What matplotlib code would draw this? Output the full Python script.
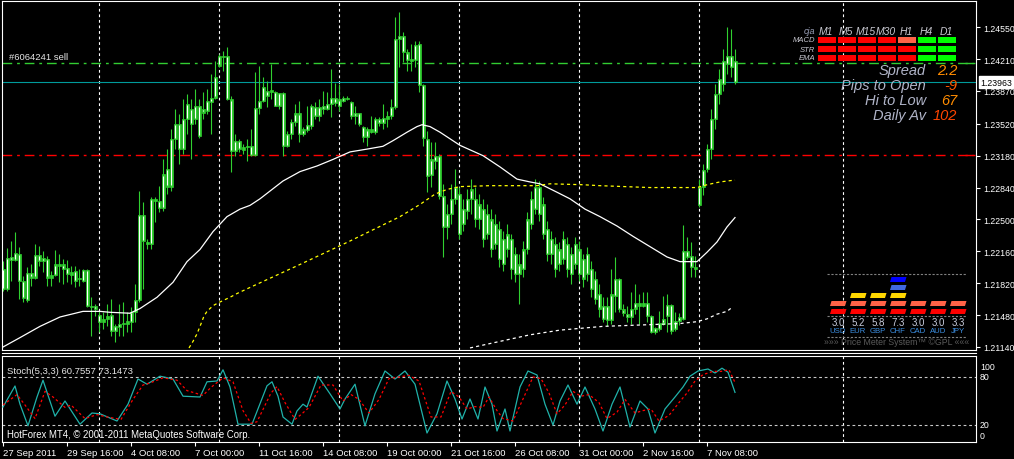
import numpy as np
import matplotlib
matplotlib.use("Agg")
import matplotlib.pyplot as plt
from matplotlib import font_manager
from matplotlib.patches import Rectangle, Polygon

plt.rcParams['font.family'] = ['Liberation Sans', 'DejaVu Sans']

# price scale font: narrow face if available, like the terminal's Tahoma
_names = {f.name for f in font_manager.fontManager.ttflist}
if 'Liberation Sans Narrow' in _names:
    SCALE_FONT, SCALE_SIZE = 'Liberation Sans Narrow', 7.2
else:
    SCALE_FONT, SCALE_SIZE = 'Liberation Sans', 6.3

# H4 candles, 27 Sep - 7 Nov 2011
c_open = [1.2176, 1.2176, 1.2207, 1.2207, 1.2213, 1.2184, 1.2164, 1.2193, 1.2188, 1.2212,
          1.2206, 1.2208, 1.2188, 1.2191, 1.2202, 1.2202, 1.2198, 1.2194, 1.2195, 1.2186,
          1.2184, 1.2196, 1.2158, 1.2158, 1.2148, 1.2141, 1.2144, 1.2148, 1.2131, 1.2135,
          1.2139, 1.2139, 1.2141, 1.2151, 1.2164, 1.2255, 1.2226, 1.2224, 1.2272, 1.2262,
          1.2262, 1.2304, 1.2285, 1.2336, 1.2352, 1.2325, 1.2357, 1.2368, 1.2357, 1.2339,
          1.2368, 1.2366, 1.2375, 1.2380, 1.2414, 1.2424, 1.2424, 1.2378, 1.2323, 1.2334,
          1.2324, 1.2327, 1.2328, 1.2319, 1.2369, 1.2376, 1.2387, 1.2386, 1.2386, 1.2371,
          1.2385, 1.2328, 1.2341, 1.2354, 1.2363, 1.2341, 1.2345, 1.2350, 1.2370, 1.2360,
          1.2371, 1.2368, 1.2373, 1.2380, 1.2371, 1.2376, 1.2380, 1.2375, 1.2360, 1.2364,
          1.2349, 1.2338, 1.2343, 1.2343, 1.2357, 1.2353, 1.2357, 1.2360, 1.2370, 1.2442,
          1.2446, 1.2428, 1.2419, 1.2420, 1.2437, 1.2393, 1.2336, 1.2297, 1.2312, 1.2318,
          1.2275, 1.2242, 1.2256, 1.2272, 1.2277, 1.2245, 1.2259, 1.2272, 1.2272, 1.2250,
          1.2261, 1.2234, 1.2250, 1.2224, 1.2240, 1.2202, 1.2234, 1.2229, 1.2213, 1.2192,
          1.2197, 1.2218, 1.2245, 1.2261, 1.2285, 1.2266, 1.2240, 1.2213, 1.2224, 1.2202,
          1.2208, 1.2224, 1.2213, 1.2202, 1.2218, 1.2208, 1.2192, 1.2197, 1.2187, 1.2171,
          1.2158, 1.2143, 1.2143, 1.2168, 1.2187, 1.2154, 1.2149, 1.2146, 1.2155, 1.2158,
          1.2161, 1.2161, 1.2147, 1.2130, 1.2133, 1.2139, 1.2147, 1.2159, 1.2133, 1.2142,
          1.2144, 1.2216, 1.2211, 1.2199, 1.2265, 1.2285, 1.2304, 1.2325, 1.2357, 1.2384,
          1.2394, 1.2416, 1.2424, 1.2419]
c_high = [1.2206, 1.2220, 1.2227, 1.2237, 1.2221, 1.2190, 1.2199, 1.2202, 1.2224, 1.2222,
          1.2216, 1.2211, 1.2195, 1.2217, 1.2213, 1.2208, 1.2207, 1.2200, 1.2200, 1.2197,
          1.2197, 1.2197, 1.2167, 1.2160, 1.2152, 1.2151, 1.2160, 1.2165, 1.2139, 1.2160,
          1.2162, 1.2151, 1.2157, 1.2181, 1.2280, 1.2269, 1.2229, 1.2274, 1.2274, 1.2286,
          1.2314, 1.2325, 1.2346, 1.2368, 1.2362, 1.2378, 1.2384, 1.2378, 1.2389, 1.2378,
          1.2386, 1.2389, 1.2405, 1.2419, 1.2426, 1.2430, 1.2434, 1.2382, 1.2341, 1.2336,
          1.2330, 1.2336, 1.2346, 1.2407, 1.2414, 1.2402, 1.2398, 1.2416, 1.2387, 1.2385,
          1.2386, 1.2344, 1.2357, 1.2373, 1.2376, 1.2349, 1.2371, 1.2373, 1.2375, 1.2378,
          1.2387, 1.2386, 1.2410, 1.2396, 1.2394, 1.2382, 1.2382, 1.2376, 1.2371, 1.2364,
          1.2350, 1.2349, 1.2360, 1.2359, 1.2359, 1.2373, 1.2366, 1.2378, 1.2466, 1.2471,
          1.2450, 1.2432, 1.2437, 1.2440, 1.2440, 1.2394, 1.2344, 1.2333, 1.2333, 1.2320,
          1.2288, 1.2266, 1.2288, 1.2304, 1.2285, 1.2272, 1.2282, 1.2293, 1.2285, 1.2277,
          1.2272, 1.2266, 1.2261, 1.2256, 1.2248, 1.2238, 1.2245, 1.2234, 1.2221, 1.2213,
          1.2227, 1.2258, 1.2280, 1.2293, 1.2291, 1.2274, 1.2248, 1.2238, 1.2231, 1.2226,
          1.2238, 1.2231, 1.2221, 1.2231, 1.2227, 1.2213, 1.2221, 1.2206, 1.2195, 1.2181,
          1.2167, 1.2167, 1.2197, 1.2210, 1.2188, 1.2160, 1.2158, 1.2173, 1.2181, 1.2171,
          1.2173, 1.2173, 1.2148, 1.2135, 1.2152, 1.2168, 1.2170, 1.2160, 1.2151, 1.2150,
          1.2244, 1.2231, 1.2226, 1.2211, 1.2293, 1.2309, 1.2330, 1.2368, 1.2394, 1.2410,
          1.2432, 1.2455, 1.2453, 1.2432]
c_low = [1.2174, 1.2174, 1.2184, 1.2206, 1.2165, 1.2162, 1.2162, 1.2179, 1.2187, 1.2200,
         1.2194, 1.2179, 1.2179, 1.2190, 1.2183, 1.2181, 1.2183, 1.2181, 1.2178, 1.2179,
         1.2183, 1.2157, 1.2126, 1.2147, 1.2130, 1.2133, 1.2136, 1.2126, 1.2119, 1.2126,
         1.2126, 1.2130, 1.2130, 1.2141, 1.2162, 1.2176, 1.2218, 1.2218, 1.2247, 1.2258,
         1.2259, 1.2277, 1.2280, 1.2325, 1.2309, 1.2320, 1.2341, 1.2314, 1.2352, 1.2337,
         1.2357, 1.2362, 1.2341, 1.2378, 1.2412, 1.2408, 1.2377, 1.2301, 1.2318, 1.2322,
         1.2320, 1.2312, 1.2318, 1.2318, 1.2362, 1.2375, 1.2370, 1.2378, 1.2371, 1.2368,
         1.2318, 1.2327, 1.2336, 1.2350, 1.2333, 1.2339, 1.2343, 1.2346, 1.2357, 1.2355,
         1.2362, 1.2367, 1.2359, 1.2371, 1.2366, 1.2375, 1.2377, 1.2357, 1.2352, 1.2350,
         1.2333, 1.2328, 1.2342, 1.2341, 1.2350, 1.2346, 1.2349, 1.2357, 1.2368, 1.2412,
         1.2418, 1.2408, 1.2408, 1.2412, 1.2386, 1.2328, 1.2279, 1.2285, 1.2304, 1.2272,
         1.2210, 1.2229, 1.2245, 1.2266, 1.2229, 1.2238, 1.2250, 1.2256, 1.2242, 1.2240,
         1.2221, 1.2229, 1.2210, 1.2218, 1.2199, 1.2195, 1.2210, 1.2187, 1.2183, 1.2160,
         1.2189, 1.2213, 1.2240, 1.2256, 1.2248, 1.2229, 1.2206, 1.2202, 1.2189, 1.2195,
         1.2202, 1.2189, 1.2181, 1.2197, 1.2184, 1.2178, 1.2184, 1.2167, 1.2160, 1.2146,
         1.2141, 1.2136, 1.2139, 1.2151, 1.2151, 1.2147, 1.2141, 1.2139, 1.2149, 1.2139,
         1.2157, 1.2141, 1.2129, 1.2128, 1.2131, 1.2137, 1.2130, 1.2128, 1.2131, 1.2137,
         1.2143, 1.2208, 1.2189, 1.2189, 1.2263, 1.2276, 1.2301, 1.2314, 1.2346, 1.2373,
         1.2387, 1.2405, 1.2402, 1.2394]
c_close = [1.2197, 1.2209, 1.2210, 1.2214, 1.2184, 1.2166, 1.2193, 1.2188, 1.2212, 1.2206,
           1.2209, 1.2188, 1.2191, 1.2202, 1.2200, 1.2197, 1.2192, 1.2191, 1.2184, 1.2188,
           1.2196, 1.2158, 1.2157, 1.2154, 1.2141, 1.2144, 1.2147, 1.2131, 1.2136, 1.2139,
           1.2140, 1.2142, 1.2151, 1.2164, 1.2255, 1.2227, 1.2224, 1.2272, 1.2270, 1.2270,
           1.2298, 1.2285, 1.2336, 1.2352, 1.2325, 1.2357, 1.2373, 1.2352, 1.2371, 1.2371,
           1.2364, 1.2376, 1.2380, 1.2402, 1.2424, 1.2423, 1.2378, 1.2323, 1.2334, 1.2325,
           1.2327, 1.2328, 1.2319, 1.2369, 1.2376, 1.2391, 1.2382, 1.2388, 1.2371, 1.2385,
           1.2328, 1.2341, 1.2354, 1.2363, 1.2341, 1.2346, 1.2351, 1.2371, 1.2360, 1.2370,
           1.2368, 1.2373, 1.2380, 1.2374, 1.2378, 1.2380, 1.2378, 1.2360, 1.2364, 1.2352,
           1.2338, 1.2346, 1.2346, 1.2357, 1.2353, 1.2358, 1.2360, 1.2370, 1.2442, 1.2446,
           1.2428, 1.2420, 1.2421, 1.2436, 1.2393, 1.2337, 1.2296, 1.2314, 1.2318, 1.2275,
           1.2242, 1.2256, 1.2272, 1.2285, 1.2234, 1.2261, 1.2272, 1.2282, 1.2250, 1.2266,
           1.2229, 1.2256, 1.2218, 1.2245, 1.2208, 1.2229, 1.2218, 1.2197, 1.2192, 1.2202,
           1.2218, 1.2250, 1.2272, 1.2285, 1.2256, 1.2234, 1.2213, 1.2229, 1.2197, 1.2218,
           1.2229, 1.2197, 1.2192, 1.2224, 1.2192, 1.2187, 1.2213, 1.2176, 1.2165, 1.2155,
           1.2144, 1.2158, 1.2170, 1.2187, 1.2154, 1.2150, 1.2146, 1.2155, 1.2161, 1.2161,
           1.2158, 1.2147, 1.2130, 1.2134, 1.2140, 1.2144, 1.2159, 1.2131, 1.2142, 1.2146,
           1.2216, 1.2210, 1.2199, 1.2197, 1.2285, 1.2303, 1.2325, 1.2357, 1.2384, 1.2400,
           1.2419, 1.2424, 1.2412, 1.23963]

# moving averages (bar index, price)
ma_white_x = [0, 4.25, 9.25, 14.25, 20, 24.25, 26.75, 31.75, 34.25, 38.5, 42.5, 46, 49.25, 52.5, 56,
              59.25, 61.75, 64.25, 70, 74.25, 78.5, 82.5, 86.75, 91, 95, 97.5, 101, 103.5, 104.75,
              106.75, 109.25, 111.75, 114.25, 120, 124.25, 128.5, 131.75, 134.25, 138.5, 141.75,
              145.5, 149.25, 153.5, 157.5, 161.75, 166, 169.25, 173.5, 176, 178.5, 181, 183]
ma_white = [1.2114, 1.2124, 1.2136, 1.2146, 1.2152, 1.2152, 1.2151, 1.2150, 1.2155, 1.2167,
            1.2183, 1.2205, 1.2218, 1.2237, 1.2253, 1.2261, 1.2265, 1.2272, 1.2291, 1.2301,
            1.2307, 1.2314, 1.2322, 1.2325, 1.2328, 1.2334, 1.2343, 1.2349, 1.2351, 1.2349,
            1.2343, 1.2336, 1.2329, 1.2318, 1.2306, 1.2293, 1.2290, 1.2288, 1.2279, 1.2272,
            1.2261, 1.2253, 1.2243, 1.2232, 1.2221, 1.2210, 1.2205, 1.2205, 1.2215, 1.2226,
            1.2242, 1.2252]
ma_yellow_x = [46.5, 47.5, 48.5, 49.25, 50.25, 51, 52.5, 53.75, 55.25, 56.75, 58.5, 60, 61.5, 74.25,
               86.75, 99.25, 104.25, 108, 111, 114.25, 121.75, 133.5, 136.75, 145, 149.25, 161.75,
               173.5, 176, 179.25, 183]
ma_yellow = [1.2113, 1.2120, 1.2128, 1.2136, 1.2147, 1.2152, 1.2158, 1.2161, 1.2164, 1.2167,
             1.2171, 1.2174, 1.2177, 1.2202, 1.2227, 1.2253, 1.2266, 1.2277, 1.2282, 1.2285,
             1.2286, 1.2286, 1.2288, 1.2287, 1.2286, 1.2284, 1.2284, 1.2287, 1.2290, 1.2292]
ma_dash_x = [116.75, 124.25, 131.75, 139.25, 150, 169.25, 173.5, 176, 178.5, 181, 182.5]
ma_dash = [1.2113, 1.2120, 1.2127, 1.2132, 1.2136, 1.2139, 1.2141, 1.2144, 1.2149, 1.2152, 1.2157]

# stochastic (5,3,3)
stoch_x = [0, 3, 4.25, 6.25, 8.5, 10, 13, 15.5, 19.25, 22.25, 24.25, 28.5, 31.25, 33.75, 36, 39.25,
           42.5, 45, 49.25, 51, 53.5, 55, 56.75, 58.75, 62.25, 66, 67.25, 68.75, 70, 72.25, 73.5,
           75, 76, 78.75, 81.75, 84.25, 85.5, 88, 90.5, 93, 95.5, 98, 100.5, 103, 106, 108.5, 111,
           113, 114.75, 116.75, 118.75, 120.5, 122.25, 123.5, 125.5, 126.75, 129.25, 131.25,
           133.5, 135.5, 137.5, 139.25, 141.25, 143.5, 145.5, 148, 150, 152.25, 154.25, 156.75,
           159.25, 161.25, 163, 165.5, 168, 170, 171.75, 173.75, 176.25, 178, 179.75, 181.25, 183]
stoch_main = [42.5, 68.75, 46, 19, 55, 76, 31, 50, 21, 35, 34, 25, 46, 77.5, 71, 81, 77.5, 56, 55,
              74, 75, 89, 67.5, 21, 21, 69, 74, 56, 30, 21, 37.5, 46, 42.5, 81, 59, 40, 52.5, 71,
              19, 59, 87.5, 77.5, 87.5, 71, 10, 34, 75, 52.5, 27.5, 52.5, 27.5, 67.5, 46, 12.5, 40,
              12.5, 67.5, 87.5, 82.5, 46, 20, 50, 70, 46, 67.5, 40, 12.5, 46, 67.5, 17.5, 50, 40,
              10, 40, 55, 67.5, 81, 87.5, 90, 85, 91, 86, 60.76]
sig_x = [0, 3.5, 5.5, 8, 10.5, 12.5, 15.5, 17, 20.5, 23.5, 26, 29.5, 32.5, 35, 37, 40, 43.5, 46, 50,
         52, 55, 57.5, 60, 62, 63.5, 67, 68.5, 70.5, 73, 74.5, 76.5, 79.5, 82.5, 85, 87, 89, 91.5,
         94, 96.5, 99, 101.5, 104, 107, 109.5, 112, 114, 116, 118, 120, 121.5, 123.5, 125, 127.5,
         130.5, 132.5, 134.5, 136.5, 138.5, 140.5, 142.5, 144.5, 146.5, 149, 151, 153.5, 155.5,
         158, 160, 162, 164, 166.5, 169, 171, 173, 175, 177.5, 179.5, 181.5, 183]
sig_vals = [45, 58, 45, 28, 62, 55, 42, 45, 28, 33, 30, 27, 52, 70, 73, 79, 76, 63, 57, 67, 79, 74,
            38, 22, 24, 60, 68, 48, 27, 33, 42, 70, 70, 50, 58, 52, 35, 52, 78, 80, 82, 75, 30, 30,
            62, 55, 40, 43, 42, 55, 38, 28, 25, 58, 80, 78, 60, 34, 45, 62, 56, 58, 48, 28, 36, 52,
            35, 38, 40, 25, 32, 48, 60, 75, 83, 87, 87, 89, 73.15]

price_ticks = [1.2455, 1.2421, 1.2387, 1.2352, 1.2318, 1.2284, 1.2250, 1.2216, 1.2182, 1.2148, 1.2114]
price_labels = ['1.24550', '1.24210', '1.23870', '1.23520', '1.23180', '1.22840', '1.22500',
                '1.22160', '1.21820', '1.21480', '1.21140']
time_idx = [0, 16, 32, 48, 64, 80, 96, 112, 128, 144, 160, 176]
time_labels = ['27 Sep 2011', '29 Sep 16:00', '4 Oct 08:00', '7 Oct 00:00', '11 Oct 16:00',
               '14 Oct 08:00', '19 Oct 00:00', '21 Oct 16:00', '26 Oct 08:00', '31 Oct 00:00',
               '2 Nov 16:00', '7 Nov 08:00']
grid_idx = [24, 54, 84, 114, 144, 174, 210]
last_price = 1.23963
order_price = 1.2417
sl_price = 1.2319

# dashboard
tf_labels = ['M1', 'M5', 'M15', 'M30', 'H1', 'H4', 'D1']
sig_rows = ['MACD', 'STR', 'EMA']
sig_states = [[-1, -1, -1, -1, 0, 1, 1],
              [-1, -1, -1, -1, -1, 1, 1],
              [-1, -1, -1, -1, -1, 1, 1]]
info_labels = ['Spread', 'Pips to Open', 'Hi to Low', 'Daily Av']
info_values = ['2.2', '-9', '67', '102']
info_colors = ['#ff8c00', '#ff5a00', '#ff8c00', '#ff4500']
currencies = ['USD', 'EUR', 'GBP', 'CHF', 'CAD', 'AUD', 'JPY']
strength = [3.0, 5.2, 5.8, 7.3, 3.0, 3.0, 3.3]
meter_bars = [2, 3, 3, 5, 2, 2, 2]
meter_colors = ['#ff0000', '#ff6347', '#ffd700', '#4169e1', '#0000ff']

GREEN = '#30d030'
W, H = 1014, 460
fig = plt.figure(figsize=(W / 100, H / 100), dpi=100, facecolor='black')


def px_axes(x0, y0, x1, y1):
    a = fig.add_axes([x0 / W, 1 - y1 / H, (x1 - x0) / W, (y1 - y0) / H])
    a.set_facecolor('black')
    for s in a.spines.values():
        s.set_color('white')
        s.set_linewidth(0.8)
    return a


ax = px_axes(2, 2, 976, 351)
ax2 = px_axes(2, 357, 976, 443)
for a in (ax, ax2):
    a.set_xlim(-0.25, 243.25)
    for g in grid_idx:
        a.axvline(g, color='white', lw=0.8, ls=(0, (2.5, 2.5)), zorder=1)

# thin separator between the two windows
fig.add_artist(plt.Line2D([2 / W, 976 / W], [1 - 354 / H, 1 - 354 / H], color='white', lw=0.8))

ax.set_ylim(1.21108, 1.24829)

# level lines
ax.axhline(order_price, color='#32cd32', lw=1.0, dashes=(7, 3.5, 2, 3.5), zorder=1.5)
ax.axhline(sl_price, color='#ff0000', lw=1.0, dashes=(7, 3.5, 2, 3.5), zorder=1.5)
ax.axhline(last_price, color='#009a9a', lw=0.8, zorder=1.5)
yt = ax.get_yaxis_transform()
ax.hlines([order_price], 0.989, 0.997, transform=yt, color='#32cd32', lw=1)
ax.hlines([sl_price], 0.989, 0.997, transform=yt, color='#ff0000', lw=1)

# candles
o = np.array(c_open)
c = np.array(c_close)
hi = np.array(c_high)
lo = np.array(c_low)
idx = np.arange(len(c))
blo = np.minimum(o, c)
bhi = np.maximum(o, c)
ax.vlines(idx, lo, hi, color=GREEN, lw=0.8, zorder=2)
ax.bar(idx, bhi - blo, bottom=blo, width=0.75, color=GREEN, edgecolor=GREEN, lw=0.5, zorder=2.1)
tall = (bhi - blo) > 0.0003
ax.vlines(idx[tall], blo[tall] + 0.00012, bhi[tall] - 0.00012, color='white', lw=0.75, zorder=2.2)

# moving averages
ax.plot(ma_white_x, ma_white, color='white', lw=0.9, zorder=3)
ax.plot(ma_yellow_x, ma_yellow, color='#ffff00', lw=0.9, dashes=(2.5, 2.5), zorder=3)
ax.plot(ma_dash_x, ma_dash, color='white', lw=0.9, dashes=(2.5, 2.5), zorder=3)

ax.set_xticks([])
ax.yaxis.tick_right()
ax.set_yticks(price_ticks)
ax.set_yticklabels(price_labels, family=SCALE_FONT)
ax.tick_params(axis='y', colors='white', length=3, width=0.8, pad=2, labelsize=SCALE_SIZE)

ax.annotate(f'{last_price:.5f}', xy=(1, last_price), xycoords=('axes fraction', 'data'),
            xytext=(4, 0), textcoords='offset pixels', ha='left', va='center',
            fontsize=SCALE_SIZE, family=SCALE_FONT, color='black', zorder=20, annotation_clip=False,
            bbox=dict(boxstyle='square,pad=0.15', fc='white', ec='white'))

# stochastic panel
ax2.set_ylim(-1.25, 106.25)
for lv in (80, 20):
    ax2.axhline(lv, color='#c8c8c8', lw=0.8, dashes=(2.5, 2.5), zorder=1)
ax2.plot(stoch_x, stoch_main, color='#20b2aa', lw=0.9, zorder=3)
ax2.plot(sig_x, sig_vals, color='#ff0000', lw=0.9, dashes=(2, 2), zorder=3)
ax2.set_yticks([])
ax2.set_xticks(time_idx)
ax2.set_xticklabels(time_labels)
for lbl in ax2.get_xticklabels():
    lbl.set_horizontalalignment('left')
ax2.tick_params(axis='x', colors='white', length=3, width=0.8, pad=1.5, labelsize=6.8)

# overlay in pixel space for texts and panels
ov = fig.add_axes([0, 0, 1, 1], zorder=10)
ov.set_xlim(0, W)
ov.set_ylim(H, 0)
ov.axis('off')
ov.patch.set_alpha(0)

for lab, yy in zip(['100', '80', '20', '0'], [368, 378, 426, 437]):
    ov.text(980, yy, lab, color='white', fontsize=SCALE_SIZE, family=SCALE_FONT, va='center', ha='left')

ov.text(9, 58, '#6064241 sell', color='#e6e6e6', fontsize=6.8, va='center', ha='left')
ov.text(7, 372, 'Stoch(5,3,3) 60.7557 73.1473', color='#e6e6e6', fontsize=6.8, va='center')
ov.text(7, 435, 'HotForex MT4, \u00a9 2001-2011 MetaQuotes Software Corp.', color='white',
        fontsize=6.9, va='center')

# signal dashboard
ov.text(815, 32, 'cja', color='#9aa0b8', fontsize=6.5, style='italic', ha='right', va='center')
for k, tf in enumerate(tf_labels):
    ov.text(826 + 20 * k, 32, tf, color='#c8c8d0', fontsize=7.5, style='italic', ha='center', va='center')
for r, name in enumerate(sig_rows):
    ov.text(815, 41 + 9 * r, name, color='#c8c8d0', fontsize=5.5, style='italic', ha='right', va='center')
    for k, st in enumerate(sig_states[r]):
        col = {-1: '#ff0000', 0: '#ff6347', 1: '#00ff00'}[st]
        ov.add_patch(Rectangle((818 + 20 * k, 37.7 + 9 * r), 17.7, 6.6, color=col, lw=0))
for r, (lab, val, vc) in enumerate(zip(info_labels, info_values, info_colors)):
    ov.text(926, 71 + 15 * r, lab, color='#b0b4c8', fontsize=10.5, style='italic', ha='right', va='center')
    ov.text(957, 71 + 15 * r, val, color=vc, fontsize=10.5, style='italic', ha='right', va='center')

# price meter
for yy in (275, 317, 338):
    ov.plot([827, 967], [yy, yy], color='#808080', lw=0.8, dashes=(2, 1.5))
for k, cur in enumerate(currencies):
    x0 = 830 + 20 * k
    for lvl in range(meter_bars[k]):
        yb = 315 - 8 * lvl
        ov.add_patch(Polygon([(x0, yb), (x0 + 15, yb), (x0 + 16.5, yb - 5), (x0 + 1.5, yb - 5)],
                             closed=True, color=meter_colors[lvl], lw=0))
    ov.text(x0 + 8, 323, f'{strength[k]:.1f}', color='#c8ccdc', fontsize=7, ha='center', va='center')
    ov.text(x0 + 8, 332, cur, color='#3c8ee0', fontsize=5.6, ha='center', va='center')
ov.text(897, 343, '\u00bb\u00bb\u00bb Price Meter System\u2122 \u00a9GPL \u00ab\u00ab\u00ab', color='#5a5a5a',
        fontsize=6.3, ha='center', va='center')

fig.savefig('out.png', dpi=100, facecolor='black')
